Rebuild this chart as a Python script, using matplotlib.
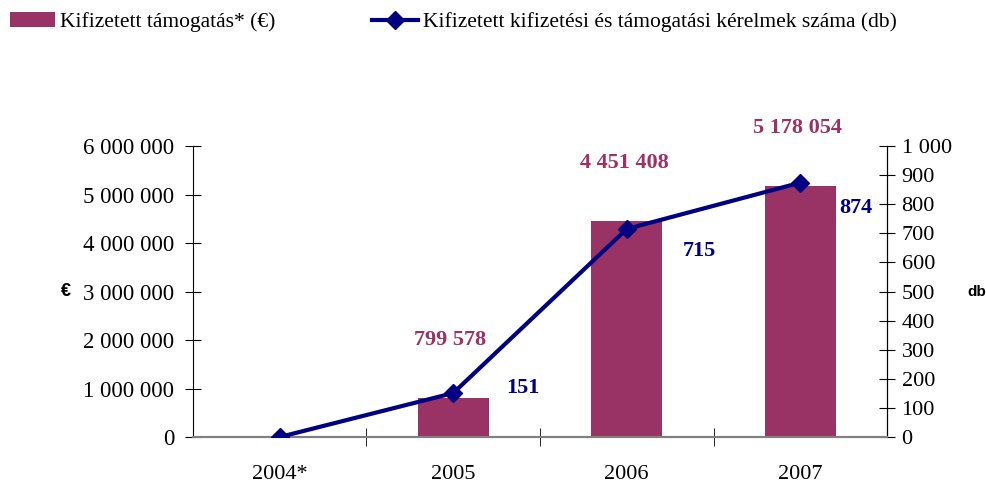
import matplotlib.pyplot as plt
from matplotlib.ticker import FuncFormatter

years = ['2004*', '2005', '2006', '2007']
support = [0, 799578, 4451408, 5178054]   # euro
requests = [0, 151, 715, 874]             # db

bar_color = '#993366'
line_color = '#000080'

plt.rcParams['font.family'] = ['Liberation Serif', 'DejaVu Serif']

def spaced(v, pos=None):
    return '{:,}'.format(int(v)).replace(',', ' ')

fig = plt.figure(figsize=(9.87, 4.84), dpi=100)
ax = fig.add_axes([0.1955, 0.0971, 0.7032, 0.6012])
ax2 = ax.twinx()

x = range(len(years))
ax.bar(x, support, 0.41, color=bar_color, label='Kifizetett támogatás* (€)', zorder=2)
ax2.plot(x, requests, color=line_color, lw=3, marker='D', markersize=9,
         label='Kifizetett kifizetési és támogatási kérelmek száma (db)', zorder=3)

ax.set_xlim(-0.5, 3.5)
ax.set_ylim(0, 6000000)
ax2.set_ylim(0, 1000)
ax.set_yticks(range(0, 6000001, 1000000))
ax2.set_yticks(range(0, 1001, 100))
ax.yaxis.set_major_formatter(FuncFormatter(spaced))
ax2.yaxis.set_major_formatter(FuncFormatter(spaced))

ax.set_xticks(list(x))
ax.set_xticklabels(years)
ax.set_xticks([0.5, 1.5, 2.5], minor=True)
ax.tick_params(axis='x', which='major', length=0, labelsize=16, pad=20)
ax.tick_params(axis='x', which='minor', direction='inout', length=13, color='black')
ax.tick_params(axis='y', direction='inout', length=11, labelsize=16.5, pad=8)
ax2.tick_params(axis='y', direction='inout', length=11, labelsize=16, pad=5)

for a in (ax, ax2):
    a.spines['top'].set_visible(False)
    a.spines['bottom'].set_color('#808080')
    a.spines['bottom'].set_linewidth(1.5)
ax2.spines['left'].set_visible(False)

ax.set_ylabel('€', rotation=0, fontsize=13, fontweight='bold', family='Liberation Sans',
              labelpad=12, va='center')
ax2.set_ylabel('db', rotation=0, fontsize=11, fontweight='bold', family='Liberation Sans',
               labelpad=18, va='center')

# bar value labels
for i, v in enumerate(support):
    if v > 0:
        ax.annotate(spaced(v), (i, v), xytext=(-2, 42), textcoords='offset points',
                    ha='center', va='center', fontsize=16, fontweight='bold', color=bar_color)

# line value labels
offsets = [None, (50, 4), (52, -16), (40, -18)]
for i, v in enumerate(requests):
    if offsets[i] is not None:
        ax2.annotate(str(v), (i, v), xytext=offsets[i], textcoords='offset points',
                     ha='center', va='center', fontsize=16, fontweight='bold', color=line_color)

h1, l1 = ax.get_legend_handles_labels()
h2, l2 = ax2.get_legend_handles_labels()
fig.legend(h1 + h2, l1 + l2, loc='upper left', bbox_to_anchor=(-0.01, 1.015), ncol=2,
           frameon=False, fontsize=15.5, handlelength=2.1, handleheight=0.7,
           handletextpad=0.25, columnspacing=4.5)

fig.savefig('out.png', dpi=100)
